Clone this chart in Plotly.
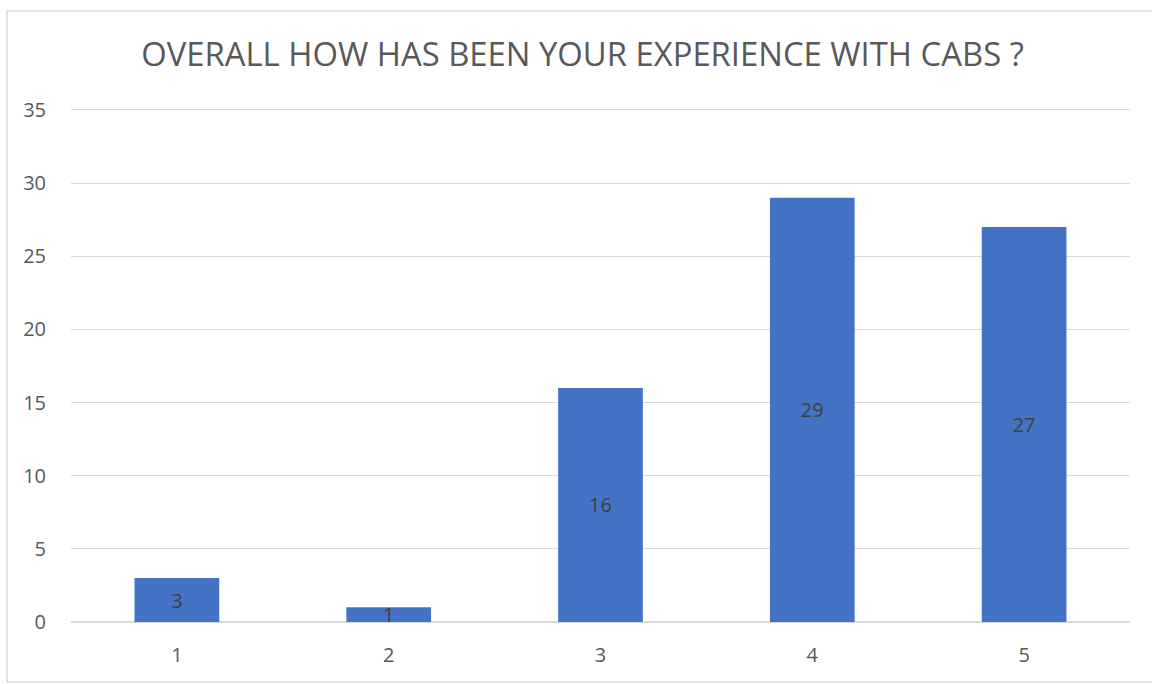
import plotly.graph_objects as go

# Survey responses: rating (1-5) and number of respondents
ratings = ["1", "2", "3", "4", "5"]
counts = [3, 1, 16, 29, 27]
y_ticks = [0, 5, 10, 15, 20, 25, 30, 35]

title_text = "OVERALL HOW HAS BEEN YOUR EXPERIENCE WITH CABS ?"

W, H = 1152, 684
ml, mr, mt, mb = 71, 22, 110, 62
pw, ph = W - ml - mr, H - mt - mb

GRID = "#D9D9D9"
FONT = "Open Sans"

fig = go.Figure(
    go.Bar(
        x=ratings,
        y=counts,
        marker=dict(color="#4472C4", line=dict(width=0)),
        text=[str(c) for c in counts],
        textposition="inside",
        insidetextanchor="middle",
        textangle=0,
        textfont=dict(color="#404040", size=20, family=FONT),
        hoverinfo="x+y",
    )
)

# Outer chart frame
fig.add_shape(
    type="rect",
    xref="paper", yref="paper",
    x0=(7 - ml) / pw, x1=(W + 5 - ml) / pw,
    y0=(mt + ph - 682) / ph, y1=(mt + ph - 11) / ph,
    line=dict(color=GRID, width=1.5),
    fillcolor="rgba(0,0,0,0)",
    layer="below",
)

fig.update_layout(
    width=W, height=H,
    margin=dict(l=ml, r=mr, t=mt, b=mb),
    paper_bgcolor="white",
    plot_bgcolor="white",
    bargap=0.6,
    showlegend=False,
    uniformtext=dict(minsize=20, mode="show"),
    title=dict(
        text=title_text,
        x=582.5 / W, xanchor="center",
        y=1 - 55 / H, yanchor="middle",
        font=dict(family=FONT, size=32.8, color="#595959"),
    ),
    font=dict(family=FONT, color="#595959", size=20),
    xaxis=dict(
        showgrid=False, zeroline=False,
        showline=True, mirror=True, linecolor=GRID, linewidth=1.3,
        ticks="", tickfont=dict(size=20, color="#595959"),
        ticklabelstandoff=15,
    ),
    yaxis=dict(
        range=[0, 35],
        tickvals=y_ticks,
        showgrid=True, gridcolor=GRID, gridwidth=1.3,
        zeroline=True, zerolinecolor=GRID, zerolinewidth=2,
        showline=False, ticks="",
        tickfont=dict(size=20, color="#595959"),
        ticklabelstandoff=24,
    ),
)

fig.write_html("out.html")
